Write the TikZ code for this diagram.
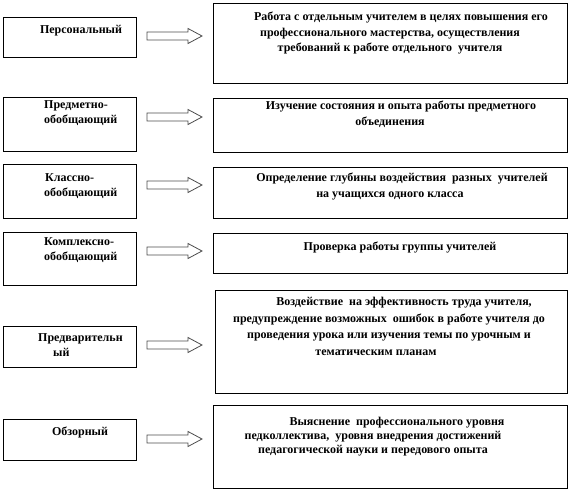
\documentclass[tikz,border=0pt]{standalone}
\usepackage{fontspec}
\setmainfont{Liberation Serif}[BoldFont={Liberation Serif Bold}]
\begin{document}
\begin{tikzpicture}[x=1pt,y=-1pt,
  box/.style={draw=black, line width=1pt, rectangle, inner sep=0pt, anchor=north west},
  txt/.style={font=\bfseries\fontsize{12}{15.5}\selectfont, inner sep=0pt},
  blockarrow/.pic={\draw[draw=black!70, line width=0.8pt, line join=miter]
     (0,-4) -- (41,-4) -- (41,-7.5) -- (55,0) -- (41,7.5) -- (41,4) -- (0,4) -- cycle;}
]
\useasboundingbox (0,0) rectangle (573,490);

% left boxes
\node[box, minimum width=133pt, minimum height=40pt] (L1) at (3,17) {};
\node[box, minimum width=133pt, minimum height=54pt] (L2) at (3,97) {};
\node[box, minimum width=133pt, minimum height=54pt] (L3) at (3,164) {};
\node[box, minimum width=133pt, minimum height=53pt] (L4) at (3,232) {};
\node[box, minimum width=133pt, minimum height=41pt] (L5) at (3,326) {};
\node[box, minimum width=133pt, minimum height=41pt] (L6) at (3,419) {};

% right boxes
\node[box, minimum width=354pt, minimum height=80pt] (R1) at (213,3) {};
\node[box, minimum width=354pt, minimum height=54pt] (R2) at (213,98) {};
\node[box, minimum width=354pt, minimum height=51pt] (R3) at (213,167) {};
\node[box, minimum width=354pt, minimum height=40pt] (R4) at (213,233) {};
\node[box, minimum width=352pt, minimum height=103pt] (R5) at (215,290) {};
\node[box, minimum width=354pt, minimum height=83pt] (R6) at (213,405) {};

% block arrows
\pic at (147,36) {blockarrow};
\pic at (147,117) {blockarrow};
\pic at (147,185) {blockarrow};
\pic at (147,251) {blockarrow};
\pic at (147,345) {blockarrow};
\pic at (147,439) {blockarrow};

% left texts
\node[txt, anchor=north] (lt1) at (81,25) {Персональный};
\node[txt, anchor=north west, align=left] (lt2) at (44,100) {Предметно-\\обобщающий};
\node[txt, anchor=north west, align=left] (lt3) at (44,173) {\hspace*{1pt}Классно-\\обобщающий};
\node[txt, anchor=north west, align=left] (lt4) at (44,237) {Комплексно-\\обобщающий};
\node[txt, anchor=north west, align=left] (lt5) at (38,333) {Предварительн\\\hspace*{15pt}ый};
\node[txt, anchor=north] (lt6) at (80,427) {Обзорный};

% right texts
\node[txt, anchor=north, align=center] (rt1) at (390,12)
  {\hspace*{22pt}Работа с отдельным учителем в целях повышения его\\профессионального мастерства, осуществления\\требований к работе отдельного\ \ учителя};
\node[txt, anchor=north, align=center] (rt2) at (390,101)
  {\hspace*{22pt}Изучение состояния и опыта работы предметного\\объединения};
\node[txt, anchor=north, align=center] (rt3) at (390,173)
  {\hspace*{24pt}Определение глубины воздействия\ \ разных\ \ учителей\\на учащихся одного класса};
\node[txt, anchor=north] (rt4) at (400,242) {Проверка работы группы учителей};
\node[txt, anchor=north, align=center, font=\bfseries\fontsize{12}{16.7}\selectfont] (rt5) at (389,297)
  {\hspace*{30pt}Воздействие\ \ на эффективность труда учителя,\\предупреждение возможных\ \ ошибок в работе учителя до\\проведения урока или изучения темы по урочным и\\тематическим планам\hspace*{26pt}};
\node[txt, anchor=north, align=center, font=\bfseries\fontsize{12}{14.2}\selectfont] (rt6) at (373,417)
  {\hspace*{48pt}Выяснение\ \ профессионального уровня\\педколлектива,\ \ уровня внедрения достижений\\педагогической науки и передового опыта};
\end{tikzpicture}
\end{document}
